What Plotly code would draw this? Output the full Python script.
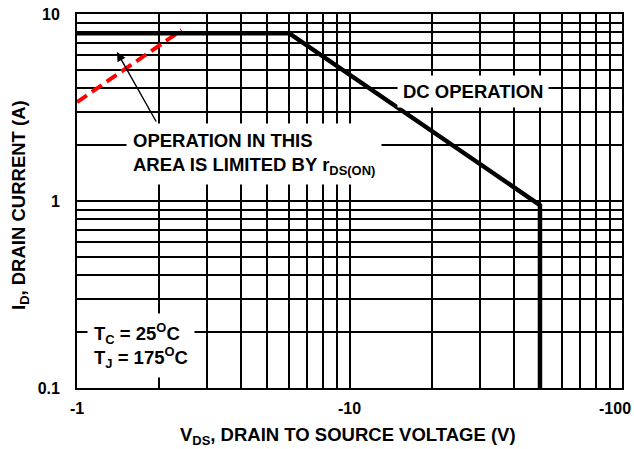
import plotly.graph_objects as go

# Safe operating area curve (DC operation)
soa_v = [1, 6, 50, 50]
soa_i = [7.9, 7.9, 0.95, 0.1]

# rDS(ON) limit line
rds_v = [1, 2.42]
rds_i = [3.38, 8.2]

# Grid / tick values
x_grid = [1, 2, 3, 4, 5, 6, 7, 8, 9, 10, 20, 30, 40, 50, 60, 70, 80, 90, 100]
x_labels = {1: "-1", 10: "-10"}
x_last_label = "-100"
y_grid = [0.1, 0.2, 0.3, 0.4, 0.5, 0.6, 0.7, 0.8, 0.9, 1, 2, 3, 4, 5, 6, 7, 8, 9, 10]
y_labels = {0.1: "0.1", 1: "1", 10: "10"}

FONT = "Liberation Sans, Arial, sans-serif"
L, R, T, B = 77, 12, 14, 61
W, H = 634, 449
PW, PH = W - L - R, H - T - B


def px(xp):
    return (xp - L) / PW


def py(yp):
    return (H - B - yp) / PH


fig = go.Figure()
fig.add_trace(go.Scatter(x=rds_v, y=rds_i, mode="lines",
                         line=dict(color="#ff0000", width=4, dash="12px,6px"),
                         hoverinfo="skip"))
fig.add_trace(go.Scatter(x=soa_v, y=soa_i, mode="lines",
                         line=dict(color="black", width=4.5),
                         hoverinfo="skip"))

tick_font = dict(family=FONT, size=16, color="black", weight="bold")
axis_common = dict(
    type="log", showgrid=True, gridcolor="black", gridwidth=1.6,
    showline=True, linecolor="black", linewidth=1.8, mirror=True,
    ticks="", zeroline=False, automargin=False, tickfont=tick_font,
)
fig.update_xaxes(range=[0, 2], tickvals=x_grid,
                 ticktext=[x_labels.get(v, "") for v in x_grid],
                 ticklabelstandoff=5, **axis_common)
fig.update_yaxes(range=[-1, 1], tickvals=y_grid,
                 ticktext=[y_labels.get(v, "") for v in y_grid],
                 ticklabelstandoff=12, **axis_common)

ann_font = dict(family=FONT, size=18.5, color="black", weight="bold")
annotations = [
    dict(text="DC OPERATION", x=px(473), y=py(91), xref="paper", yref="paper",
         xanchor="center", yanchor="middle", showarrow=False,
         bgcolor="white", borderpad=5, font=ann_font),
    dict(text="OPERATION IN THIS<br>AREA IS LIMITED BY r<sub>DS(ON)</sub>",
         x=px(126), y=py(154), xref="paper", yref="paper",
         xanchor="left", yanchor="middle", align="left", showarrow=False,
         bgcolor="white", borderpad=6, font=ann_font),
    dict(text="T<sub>C</sub> = 25<sup>O</sup>C<br>T<sub>J</sub> = 175<sup>O</sup>C",
         x=px(87), y=py(345), xref="paper", yref="paper",
         xanchor="left", yanchor="middle", align="left", showarrow=False,
         bgcolor="white", borderpad=6, font=ann_font),
    dict(text="", x=px(117), y=py(52), xref="paper", yref="paper",
         showarrow=True, ax=40, ay=71, arrowhead=2, arrowsize=1.3,
         arrowwidth=1.4, arrowcolor="black"),
    dict(text=x_last_label, x=1, y=py(408), xref="paper", yref="paper",
         xanchor="right", yanchor="middle", xshift=11, showarrow=False,
         font=tick_font),
    dict(text="V<sub>DS</sub>, DRAIN TO SOURCE VOLTAGE (V)",
         x=px(348), y=py(436), xref="paper", yref="paper",
         xanchor="center", yanchor="middle", showarrow=False, font=ann_font),
    dict(text="I<sub>D</sub>, DRAIN CURRENT (A)",
         x=px(20), y=py(205), xref="paper", yref="paper", textangle=-90,
         xanchor="center", yanchor="middle", showarrow=False, font=ann_font),
]

fig.update_layout(
    width=W, height=H, autosize=False,
    margin=dict(l=L, r=R, t=T, b=B, autoexpand=False),
    paper_bgcolor="white", plot_bgcolor="white",
    showlegend=False,
    font=dict(family=FONT, color="black"),
    annotations=annotations,
)

fig.write_html(
    "out.html",
    config={"responsive": False, "displayModeBar": False},
    post_script=(
        "document.documentElement.style.margin='0';"
        "document.documentElement.style.overflow='hidden';"
        "document.body.style.margin='0';"
        "document.body.style.overflow='hidden';"
    ),
)
